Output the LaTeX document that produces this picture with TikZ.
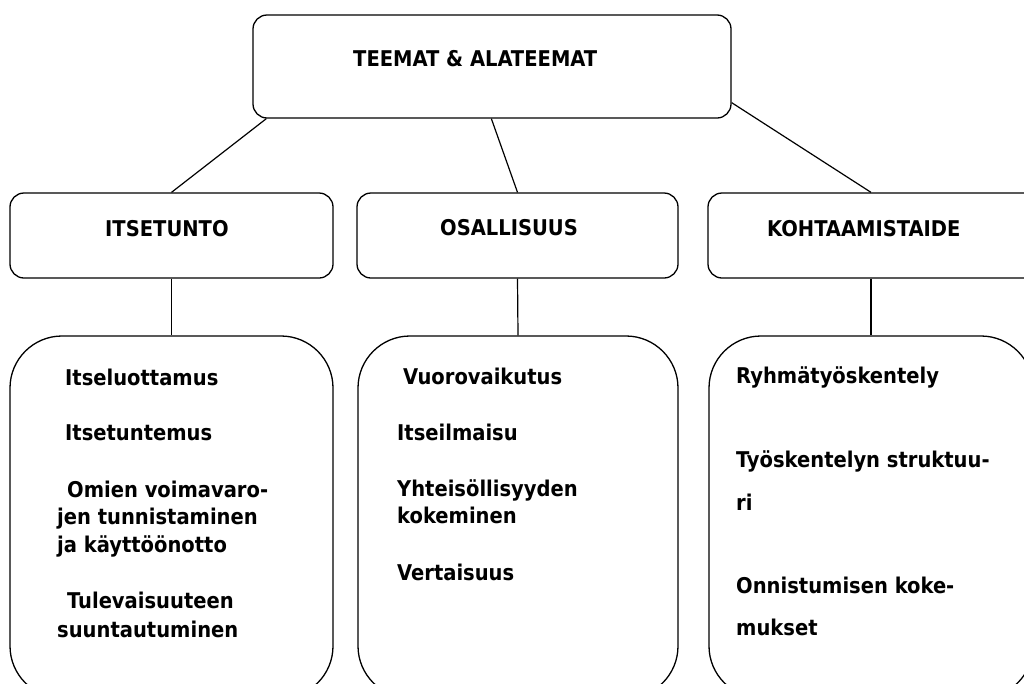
\documentclass[tikz,border=0pt]{standalone}
\usepackage{fontspec}
\setmainfont{DejaVu Sans Condensed}[BoldFont={DejaVu Sans Condensed Bold}]
\usetikzlibrary{calc}
\tikzset{
  box/.style={draw, line width=1.3pt, rounded corners=14pt, inner sep=0pt},
  bigbox/.style={draw, line width=1.3pt, rounded corners=52pt, inner sep=0pt},
  conn/.style={line width=1.2pt},
  head/.style={anchor=base west, inner sep=0pt, font=\fontsize{21.7}{25}\selectfont\bfseries},
  item/.style={anchor=base west, inner sep=0pt, font=\fontsize{21.7}{25}\selectfont\bfseries},
}
\begin{document}
\begin{tikzpicture}[x=1pt,y=-1pt]
\useasboundingbox (0,0) rectangle (1024,683);
\clip (0,0) rectangle (1024,683);
% boxes
\node[box, minimum width=478pt, minimum height=103pt] (top) at (492,66.5) {};
\node[box, minimum width=323pt, minimum height=85pt] (itse) at (171.5,235.5) {};
\node[box, minimum width=321pt, minimum height=85pt] (osal) at (517.5,235.5) {};
\node[box, minimum width=332pt, minimum height=85pt] (koht) at (874,235.5) {};
\node[bigbox, minimum width=323pt, minimum height=362pt] (sub1) at (171.5,517) {};
\node[bigbox, minimum width=320pt, minimum height=362pt] (sub2) at (518,517) {};
\node[bigbox, minimum width=324pt, minimum height=362pt] (sub3) at (871,517) {};
% connectors
\draw[conn] ($(top.south west)+(14,0)$) -- (itse.north);
\draw[conn] ($(top.south west)+(239,0)$) -- (osal.north);
\draw[conn] ($(top.south east)+(0,-16)$) -- (koht.north -| sub3.north);
\draw[conn] (itse.south) -- (sub1.north);
\draw[conn] (osal.south) -- (sub2.north);
\draw[conn] (koht.south -| sub3.north) -- (sub3.north);
% headings
\node[head] (ttop) at (353,66) {TEEMAT \& ALATEEMAT};
\node[head] (titse) at (105,236) {ITSETUNTO};
\node[head] (tosal) at (440,235) {OSALLISUUS};
\node[head] (tkoht) at (767,236) {KOHTAAMISTAIDE};
% left items
\node[item] (a1) at (65,385) {Itseluottamus};
\node[item] (a2) at (65,440) {Itsetuntemus};
\node[item] (a3) at (67,497) {Omien voimavaro-};
\node[item] (a4) at (57,524) {jen tunnistaminen};
\node[item] (a5) at (57,552) {ja käyttöönotto};
\node[item] (a6) at (67,608) {Tulevaisuuteen};
\node[item] (a7) at (57,637) {suuntautuminen};
% middle items
\node[item] (b1) at (403,384) {Vuorovaikutus};
\node[item] (b2) at (397,440) {Itseilmaisu};
\node[item] (b3) at (397,496) {Yhteisöllisyyden};
\node[item] (b4) at (397,523) {kokeminen};
\node[item] (b5) at (397,580) {Vertaisuus};
% right items
\node[item] (c1) at (736,383) {Ryhmätyöskentely};
\node[item] (c2) at (736,467) {Työskentelyn struktuu-};
\node[item] (c3) at (736,510) {ri};
\node[item] (c4) at (736,593) {Onnistumisen koke-};
\node[item] (c5) at (736,635) {mukset};
\end{tikzpicture}
\end{document}
